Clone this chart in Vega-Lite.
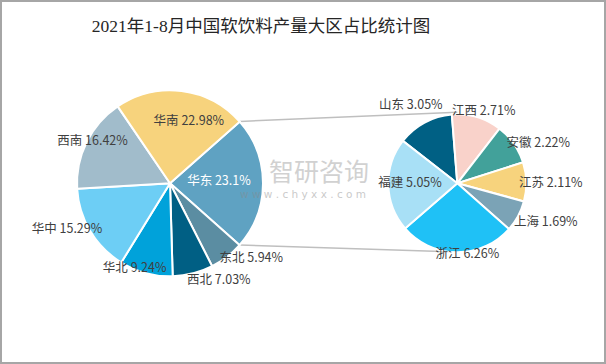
{
  "$schema": "https://vega.github.io/schema/vega-lite/v6.json",
  "width": 604,
  "height": 362,
  "autosize": {"type": "none"},
  "padding": 1,
  "background": "#ffffff",
  "title": {
    "text": "2021年1-8月中国软饮料产量大区占比统计图",
    "font": "Liberation Serif, Noto Sans CJK SC",
    "fontSize": 17.5,
    "fontWeight": "normal",
    "color": "#262626",
    "anchor": "middle",
    "frame": "group",
    "baseline": "bottom",
    "offset": -52,
    "dx": -42
  },
  "data": {
    "values": [
      {"pie": "大区", "name": "华东", "value": 23.1, "idx": 1},
      {"pie": "大区", "name": "东北", "value": 5.94, "idx": 2},
      {"pie": "大区", "name": "西北", "value": 7.03, "idx": 3},
      {"pie": "大区", "name": "华北", "value": 9.24, "idx": 4},
      {"pie": "大区", "name": "华中", "value": 15.29, "idx": 5},
      {"pie": "大区", "name": "西南", "value": 16.42, "idx": 6},
      {"pie": "大区", "name": "华南", "value": 22.98, "idx": 7},
      {"pie": "华东省份", "name": "山东", "value": 3.05, "idx": 1},
      {"pie": "华东省份", "name": "江西", "value": 2.71, "idx": 2},
      {"pie": "华东省份", "name": "安徽", "value": 2.22, "idx": 3},
      {"pie": "华东省份", "name": "江苏", "value": 2.11, "idx": 4},
      {"pie": "华东省份", "name": "上海", "value": 1.69, "idx": 5},
      {"pie": "华东省份", "name": "浙江", "value": 6.26, "idx": 6},
      {"pie": "华东省份", "name": "福建", "value": 5.05, "idx": 7}
    ]
  },
  "transform": [{"calculate": "datum.name + ' ' + datum.value + '%'", "as": "label"}],
  "layer": [
    {
      "data": {"values": [{"link": "华东"}]},
      "mark": {"type": "rule", "stroke": "#bfbfbf", "strokeWidth": 1.5},
      "encoding": {
        "x": {"datum": 239.7, "type": "quantitative", "scale": {"domain": [1, 605], "nice": false, "zero": false}, "axis": null},
        "y": {"datum": 121.4, "type": "quantitative", "scale": {"domain": [1, 363], "nice": false, "zero": false, "reverse": true}, "axis": null},
        "x2": {"datum": 457.3},
        "y2": {"datum": 112.3}
      }
    },
    {
      "data": {"values": [{"link": "华东"}]},
      "mark": {"type": "rule", "stroke": "#bfbfbf", "strokeWidth": 1.5},
      "encoding": {
        "x": {"datum": 239.7, "type": "quantitative", "axis": null},
        "y": {"datum": 245, "type": "quantitative", "axis": null},
        "x2": {"datum": 457.3},
        "y2": {"datum": 252}
      }
    },
    {
      "transform": [{"filter": "datum.pie === '大区'"}],
      "mark": {"type": "arc", "outerRadius": 93, "stroke": "#ffffff", "strokeWidth": 2},
      "encoding": {
        "x": {"datum": 170, "type": "quantitative", "axis": null},
        "y": {"datum": 183.3, "type": "quantitative", "axis": null},
        "theta": {"field": "value", "type": "quantitative", "stack": true, "scale": {"range": [0.8465, 7.1297]}},
        "order": {"field": "idx", "type": "quantitative"},
        "color": {
          "field": "name", "type": "nominal", "legend": null,
          "scale": {
            "domain": ["华东", "东北", "西北", "华北", "华中", "西南", "华南", "山东", "江西", "安徽", "江苏", "上海", "浙江", "福建"],
            "range": ["#5fa2c2", "#5b8da2", "#005f84", "#00a2da", "#6dcef5", "#a1bccb", "#f7d37d", "#006084", "#f9d2ca", "#42a19a", "#f7d37d", "#7ba3b6", "#1fc1f6", "#a8e0f6"]
          }
        }
      }
    },
    {
      "transform": [{"filter": "datum.pie === '华东省份'"}],
      "mark": {"type": "arc", "outerRadius": 69, "stroke": "#ffffff", "strokeWidth": 2},
      "encoding": {
        "x": {"datum": 457.3, "type": "quantitative", "axis": null},
        "y": {"datum": 183.3, "type": "quantitative", "axis": null},
        "theta": {"field": "value", "type": "quantitative", "stack": true, "scale": {"range": [5.374, 11.657]}},
        "order": {"field": "idx", "type": "quantitative"},
        "color": {"field": "name", "type": "nominal", "legend": null}
      }
    },
    {
      "transform": [{"filter": "datum.pie === '大区'"}],
      "mark": {"type": "text", "radius": 49, "thetaOffset": -0.054, "font": "Noto Sans CJK SC", "fontSize": 12.5, "fill": "#ffffff"},
      "encoding": {
        "x": {"datum": 170, "type": "quantitative", "axis": null},
        "y": {"datum": 183.3, "type": "quantitative", "axis": null},
        "theta": {"field": "value", "type": "quantitative", "stack": true, "scale": {"range": [0.8465, 7.1297]}},
        "order": {"field": "idx", "type": "quantitative"},
        "text": {"condition": {"test": "datum.name === '华东'", "field": "label"}, "value": ""}
      }
    },
    {
      "transform": [{"filter": "datum.pie === '大区'"}],
      "mark": {"type": "text", "radius": 110.6, "thetaOffset": -0.168, "font": "Noto Sans CJK SC", "fontSize": 12.5, "fill": "#404040"},
      "encoding": {
        "x": {"datum": 170, "type": "quantitative", "axis": null},
        "y": {"datum": 183.3, "type": "quantitative", "axis": null},
        "theta": {"field": "value", "type": "quantitative", "stack": true, "scale": {"range": [0.8465, 7.1297]}},
        "order": {"field": "idx", "type": "quantitative"},
        "text": {"condition": {"test": "datum.name === '东北'", "field": "label"}, "value": ""}
      }
    },
    {
      "transform": [{"filter": "datum.pie === '大区'"}],
      "mark": {"type": "text", "radius": 108.3, "thetaOffset": -0.218, "font": "Noto Sans CJK SC", "fontSize": 12.5, "fill": "#404040"},
      "encoding": {
        "x": {"datum": 170, "type": "quantitative", "axis": null},
        "y": {"datum": 183.3, "type": "quantitative", "axis": null},
        "theta": {"field": "value", "type": "quantitative", "stack": true, "scale": {"range": [0.8465, 7.1297]}},
        "order": {"field": "idx", "type": "quantitative"},
        "text": {"condition": {"test": "datum.name === '西北'", "field": "label"}, "value": ""}
      }
    },
    {
      "transform": [{"filter": "datum.pie === '大区'"}],
      "mark": {"type": "text", "radius": 92, "thetaOffset": 0.133, "font": "Noto Sans CJK SC", "fontSize": 12.5, "fill": "#404040"},
      "encoding": {
        "x": {"datum": 170, "type": "quantitative", "axis": null},
        "y": {"datum": 183.3, "type": "quantitative", "axis": null},
        "theta": {"field": "value", "type": "quantitative", "stack": true, "scale": {"range": [0.8465, 7.1297]}},
        "order": {"field": "idx", "type": "quantitative"},
        "text": {"condition": {"test": "datum.name === '华北'", "field": "label"}, "value": ""}
      }
    },
    {
      "transform": [{"filter": "datum.pie === '大区'"}],
      "mark": {"type": "text", "radius": 112.8, "thetaOffset": 0.119, "font": "Noto Sans CJK SC", "fontSize": 12.5, "fill": "#404040"},
      "encoding": {
        "x": {"datum": 170, "type": "quantitative", "axis": null},
        "y": {"datum": 183.3, "type": "quantitative", "axis": null},
        "theta": {"field": "value", "type": "quantitative", "stack": true, "scale": {"range": [0.8465, 7.1297]}},
        "order": {"field": "idx", "type": "quantitative"},
        "text": {"condition": {"test": "datum.name === '华中'", "field": "label"}, "value": ""}
      }
    },
    {
      "transform": [{"filter": "datum.pie === '大区'"}],
      "mark": {"type": "text", "radius": 88.4, "thetaOffset": 0.045, "font": "Noto Sans CJK SC", "fontSize": 12.5, "fill": "#404040"},
      "encoding": {
        "x": {"datum": 170, "type": "quantitative", "axis": null},
        "y": {"datum": 183.3, "type": "quantitative", "axis": null},
        "theta": {"field": "value", "type": "quantitative", "stack": true, "scale": {"range": [0.8465, 7.1297]}},
        "order": {"field": "idx", "type": "quantitative"},
        "text": {"condition": {"test": "datum.name === '西南'", "field": "label"}, "value": ""}
      }
    },
    {
      "transform": [{"filter": "datum.pie === '大区'"}],
      "mark": {"type": "text", "radius": 65.4, "thetaOffset": 0.168, "font": "Noto Sans CJK SC", "fontSize": 12.5, "fill": "#404040"},
      "encoding": {
        "x": {"datum": 170, "type": "quantitative", "axis": null},
        "y": {"datum": 183.3, "type": "quantitative", "axis": null},
        "theta": {"field": "value", "type": "quantitative", "stack": true, "scale": {"range": [0.8465, 7.1297]}},
        "order": {"field": "idx", "type": "quantitative"},
        "text": {"condition": {"test": "datum.name === '华南'", "field": "label"}, "value": ""}
      }
    },
    {
      "transform": [{"filter": "datum.pie === '华东省份'"}],
      "mark": {"type": "text", "radius": 91, "thetaOffset": -0.042, "font": "Noto Sans CJK SC", "fontSize": 12.5, "fill": "#404040"},
      "encoding": {
        "x": {"datum": 457.3, "type": "quantitative", "axis": null},
        "y": {"datum": 183.3, "type": "quantitative", "axis": null},
        "theta": {"field": "value", "type": "quantitative", "stack": true, "scale": {"range": [5.374, 11.657]}},
        "order": {"field": "idx", "type": "quantitative"},
        "text": {"condition": {"test": "datum.name === '山东'", "field": "label"}, "value": ""}
      }
    },
    {
      "transform": [{"filter": "datum.pie === '华东省份'"}],
      "mark": {"type": "text", "radius": 77.3, "thetaOffset": 0.059, "font": "Noto Sans CJK SC", "fontSize": 12.5, "fill": "#404040"},
      "encoding": {
        "x": {"datum": 457.3, "type": "quantitative", "axis": null},
        "y": {"datum": 183.3, "type": "quantitative", "axis": null},
        "theta": {"field": "value", "type": "quantitative", "stack": true, "scale": {"range": [5.374, 11.657]}},
        "order": {"field": "idx", "type": "quantitative"},
        "text": {"condition": {"test": "datum.name === '江西'", "field": "label"}, "value": ""}
      }
    },
    {
      "transform": [{"filter": "datum.pie === '华东省份'"}],
      "mark": {"type": "text", "radius": 90.3, "thetaOffset": 0.152, "font": "Noto Sans CJK SC", "fontSize": 12.5, "fill": "#404040"},
      "encoding": {
        "x": {"datum": 457.3, "type": "quantitative", "axis": null},
        "y": {"datum": 183.3, "type": "quantitative", "axis": null},
        "theta": {"field": "value", "type": "quantitative", "stack": true, "scale": {"range": [5.374, 11.657]}},
        "order": {"field": "idx", "type": "quantitative"},
        "text": {"condition": {"test": "datum.name === '安徽'", "field": "label"}, "value": ""}
      }
    },
    {
      "transform": [{"filter": "datum.pie === '华东省份'"}],
      "mark": {"type": "text", "radius": 93.5, "thetaOffset": 0.016, "font": "Noto Sans CJK SC", "fontSize": 12.5, "fill": "#404040"},
      "encoding": {
        "x": {"datum": 457.3, "type": "quantitative", "axis": null},
        "y": {"datum": 183.3, "type": "quantitative", "axis": null},
        "theta": {"field": "value", "type": "quantitative", "stack": true, "scale": {"range": [5.374, 11.657]}},
        "order": {"field": "idx", "type": "quantitative"},
        "text": {"condition": {"test": "datum.name === '江苏'", "field": "label"}, "value": ""}
      }
    },
    {
      "transform": [{"filter": "datum.pie === '华东省份'"}],
      "mark": {"type": "text", "radius": 96.5, "thetaOffset": -0.086, "font": "Noto Sans CJK SC", "fontSize": 12.5, "fill": "#404040"},
      "encoding": {
        "x": {"datum": 457.3, "type": "quantitative", "axis": null},
        "y": {"datum": 183.3, "type": "quantitative", "axis": null},
        "theta": {"field": "value", "type": "quantitative", "stack": true, "scale": {"range": [5.374, 11.657]}},
        "order": {"field": "idx", "type": "quantitative"},
        "text": {"condition": {"test": "datum.name === '上海'", "field": "label"}, "value": ""}
      }
    },
    {
      "transform": [{"filter": "datum.pie === '华东省份'"}],
      "mark": {"type": "text", "radius": 71.4, "thetaOffset": -0.148, "font": "Noto Sans CJK SC", "fontSize": 12.5, "fill": "#404040"},
      "encoding": {
        "x": {"datum": 457.3, "type": "quantitative", "axis": null},
        "y": {"datum": 183.3, "type": "quantitative", "axis": null},
        "theta": {"field": "value", "type": "quantitative", "stack": true, "scale": {"range": [5.374, 11.657]}},
        "order": {"field": "idx", "type": "quantitative"},
        "text": {"condition": {"test": "datum.name === '浙江'", "field": "label"}, "value": ""}
      }
    },
    {
      "transform": [{"filter": "datum.pie === '华东省份'"}],
      "mark": {"type": "text", "radius": 47.3, "thetaOffset": 0.038, "font": "Noto Sans CJK SC", "fontSize": 12.5, "fill": "#404040"},
      "encoding": {
        "x": {"datum": 457.3, "type": "quantitative", "axis": null},
        "y": {"datum": 183.3, "type": "quantitative", "axis": null},
        "theta": {"field": "value", "type": "quantitative", "stack": true, "scale": {"range": [5.374, 11.657]}},
        "order": {"field": "idx", "type": "quantitative"},
        "text": {"condition": {"test": "datum.name === '福建'", "field": "label"}, "value": ""}
      }
    },
    {
      "data": {"values": [{"mark": "智研咨询"}]},
      "mark": {"type": "text", "font": "Noto Sans CJK SC", "fontSize": 25, "fill": "#9a9a9a", "opacity": 0.45},
      "encoding": {
        "x": {"datum": 319, "type": "quantitative", "axis": null},
        "y": {"datum": 173, "type": "quantitative", "axis": null},
        "text": {"field": "mark"}
      }
    },
    {
      "data": {"values": [{"mark": "w w w . c h y x x . c o m"}]},
      "mark": {"type": "text", "font": "DejaVu Sans", "fontSize": 10.5, "fill": "#8a8a8a", "opacity": 0.45},
      "encoding": {
        "x": {"datum": 303, "type": "quantitative", "axis": null},
        "y": {"datum": 195, "type": "quantitative", "axis": null},
        "text": {"field": "mark"}
      }
    }
  ],
  "resolve": {"scale": {"theta": "independent"}},
  "config": {"view": {"stroke": "#a6a6a6", "strokeWidth": 2}}
}
